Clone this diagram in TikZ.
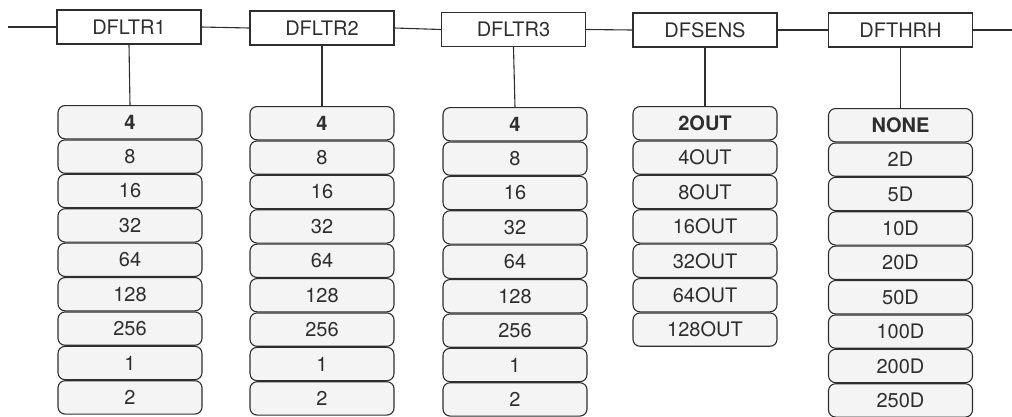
\documentclass[tikz,border=0pt]{standalone}
\usepackage{fontspec}
\setmainfont{TeX Gyre Heros}
\usepackage{tikz}
\usetikzlibrary{positioning}
\definecolor{edge}{HTML}{2E2E2E}
\definecolor{optfill}{HTML}{F4F4F4}
\tikzset{
  menu/.style={rectangle, draw=edge, line width=1.1pt, fill=white, text=edge,
               minimum width=144pt, minimum height=34pt, inner sep=0pt,
               font=\fontsize{20}{21}\selectfont},
  opt/.style={rectangle, rounded corners=7pt, draw=edge, line width=1.1pt, fill=optfill,
              text=edge, minimum width=144pt, minimum height=33.3pt, inner sep=0pt,
              font=\fontsize{20}{21}\selectfont},
  link/.style={draw=edge, line width=1.1pt},
}
\begin{document}
\begin{tikzpicture}[x=1pt, y=-1pt]
  \useasboundingbox (0,0) rectangle (1012,416);
  % menu row
  \node[menu] (h1) at (129,27) {DFLTR1};
  \node[menu] (h2) at (322,28) {DFLTR2};
  \node[menu] (h3) at (513.5,29.5) {DFLTR3};
  \node[menu] (h4) at (705,30) {DFSENS};
  \node[menu] (h5) at (900.5,30) {DFTHRH};
  \coordinate (in) at (8,27);
  \coordinate (out) at (1012,30);
  \draw[link] (in) -- (h1.west);
  \draw[link] (h1.east) -- (h2.west);
  \draw[link] (h2.east) -- (h3.west);
  \draw[link] (h3.east) -- (h4.west);
  \draw[link] (h4.east) -- (h5.west);
  \draw[link] (h5.east) -- (out);
  % option stacks, first entry is the default
  \foreach \c/\x/\t/\first/\vals in {
      1/130/105/4/{8,16,32,64,128,256,1,2},
      2/322/106/4/{8,16,32,64,128,256,1,2},
      3/515/107/4/{8,16,32,64,128,256,1,2},
      4/705/106/2OUT/{4OUT,8OUT,16OUT,32OUT,64OUT,128OUT},
      5/900.5/108/NONE/{2D,5D,10D,20D,50D,100D,200D,250D}} {
    \node[opt, anchor=north, font=\fontsize{20}{21}\selectfont\bfseries] (o\c-1) at (\x,\t) {\first};
    \draw[link] (h\c.south) -- (o\c-1.north);
    \foreach \v [count=\i from 2] in \vals {
      \pgfmathtruncatemacro\j{\i-1}
      \node[opt, below=0pt of o\c-\j] (o\c-\i) {\v};
    }
  }
\end{tikzpicture}
\end{document}
